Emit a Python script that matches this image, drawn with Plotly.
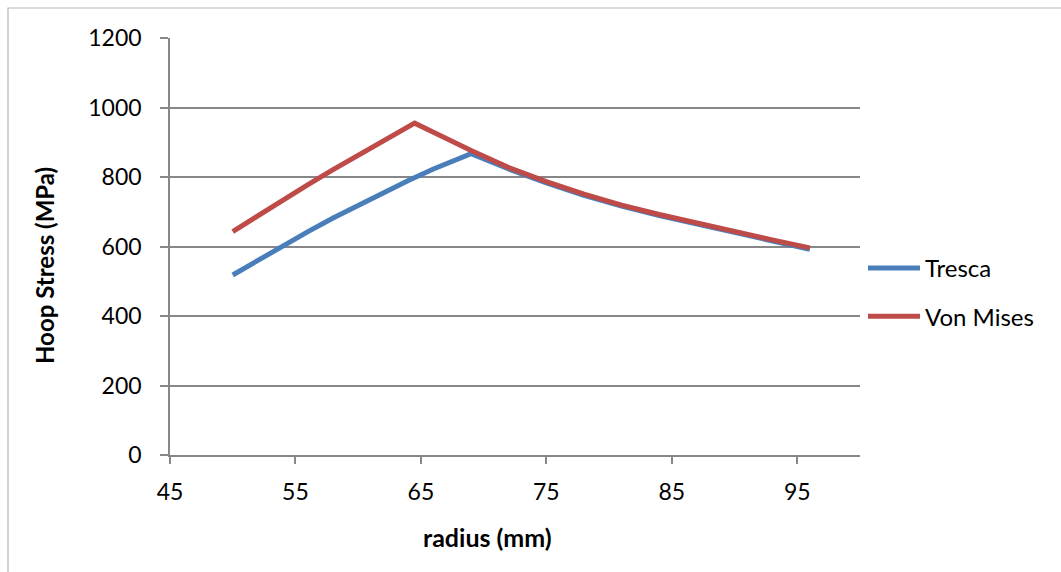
import plotly.graph_objects as go

# Data
tresca_r = [50, 52, 54, 56, 58, 60, 62, 64, 66, 68, 69, 72, 75, 78, 81, 84, 87, 90, 93, 96]
tresca_s = [518, 561, 603, 643, 682, 719, 755, 790, 823, 853, 867, 823, 783, 747, 716, 689, 664, 640, 616, 592]

vm_r = [50, 52, 54, 56, 58, 60, 62, 64, 64.5, 66, 68, 69, 72, 75, 78, 81, 84, 87, 90, 93, 96]
vm_s = [643, 689, 734, 778, 821, 863, 904, 944, 955, 929, 893, 876, 827, 787, 751, 719, 692, 667, 643, 619, 596]

series_names = ["Tresca", "Von Mises"]
series_colors = ["#4A7EBB", "#BE4B48"]

x_title = "radius (mm)"
y_title = "Hoop Stress (MPa)"

FONT = "Lato, 'Open Sans', sans-serif"
GRID = "#878787"

fig = go.Figure()
fig.add_trace(go.Scatter(x=tresca_r, y=tresca_s, mode="lines", name=series_names[0],
                         line=dict(color=series_colors[0], width=5), legendgroup="a"))
fig.add_trace(go.Scatter(x=vm_r, y=vm_s, mode="lines", name=series_names[1],
                         line=dict(color=series_colors[1], width=5), legendgroup="b"))

W, H = 1061, 572
L, R, T, B = 170, 201, 38, 117
pw, ph = W - L - R, H - T - B

def px_x(p):
    return (p - L) / pw

def px_y(p):
    return (H - B - p) / ph

fig.update_layout(
    width=W, height=H, autosize=False,
    margin=dict(l=L, r=R, t=T, b=B, pad=0),
    paper_bgcolor="white", plot_bgcolor="white",
    font=dict(family=FONT, size=23, color="#000000"),
    showlegend=True,
    legend=dict(x=px_x(863), y=px_y(246), xanchor="left", yanchor="top",
                bgcolor="rgba(0,0,0,0)", font=dict(size=24, family=FONT),
                tracegroupgap=14, itemwidth=52),
    xaxis=dict(range=[45, 100], tick0=45, dtick=10, tickmode="linear",
               showgrid=False, zeroline=False, showline=True, linecolor=GRID, linewidth=1.5,
               ticks="outside", ticklen=7, tickwidth=1.5, tickcolor=GRID,
               tickfont=dict(size=23, family=FONT), ticklabelstandoff=9),
    yaxis=dict(range=[0, 1200], tick0=0, dtick=200, tickmode="linear",
               showgrid=True, gridcolor=GRID, gridwidth=1.5, zeroline=False,
               showline=True, linecolor=GRID, linewidth=1.5,
               ticks="outside", ticklen=8, tickwidth=1.5, tickcolor=GRID,
               tickfont=dict(size=23, family=FONT), ticklabelstandoff=14),
    shapes=[dict(type="rect", xref="paper", yref="paper",
                 x0=px_x(8), x1=px_x(1075), y0=px_y(590), y1=px_y(8),
                 line=dict(color="#B5B5B5", width=1.2), fillcolor="rgba(0,0,0,0)", layer="below")],
    annotations=[
        dict(text="<b>" + x_title + "</b>", xref="paper", yref="paper",
             x=px_x(487), y=px_y(537), xanchor="center", yanchor="middle",
             showarrow=False, font=dict(size=25, family=FONT)),
        dict(text="<b>" + y_title + "</b>", xref="paper", yref="paper",
             x=px_x(44), y=px_y(266), xanchor="center", yanchor="middle",
             textangle=-90, showarrow=False, font=dict(size=24, family=FONT)),
    ],
)

fig.write_html("out.html")
